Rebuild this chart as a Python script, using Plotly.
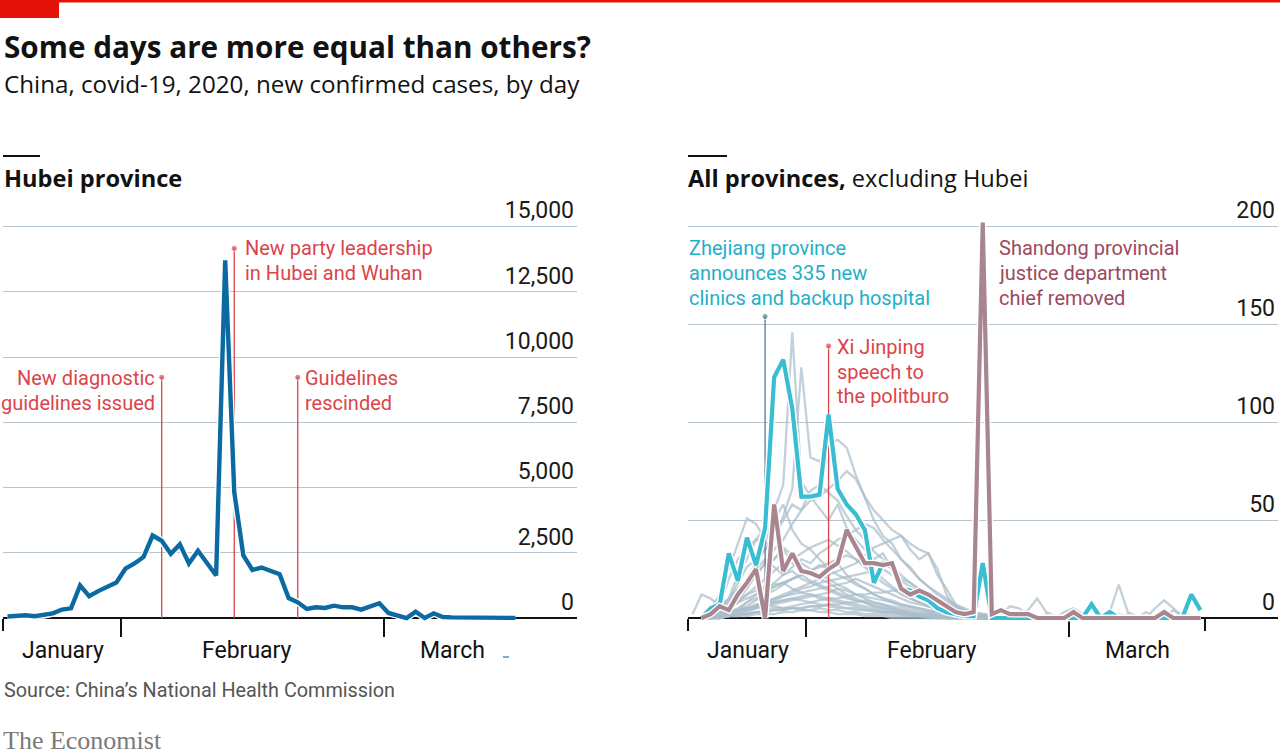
import pandas as pd
import plotly.graph_objects as go

W, H = 1280, 755

# ---- data: daily new confirmed cases, one value per day from 19 Jan to 15 Mar 2020
dates = pd.date_range("2020-01-19", "2020-03-15", freq="D")

hubei = [60, 72, 105, 69, 105, 180, 323, 371, 1250, 835,
         1030, 1205, 1360, 1890, 2090, 2340, 3160, 2960, 2460, 2820,
         2090, 2580, 2080, 1630, 13700, 4825, 2400, 1845, 1935, 1800,
         1680, 765, 600, 346, 410, 385, 474, 410, 410, 320,
         436, 564, 192, 90, 0, 243, 0, 180, 38, 25,
         18, 14, 10, 8, 5, 4, 3]

zhejiang = [None, 0, 5, 7, 33, 19, 41, 27, 46, 123,
            132, 107, 62, 62, 63, 104, 66, 58, 53, 45,
            18, 28, 26, 15, 14, 11, 9, 5, 3, 2,
            1, 1, 28, 0, 0, 0, 0, 0, 0, 0,
            0, 0, 0, 0, 7, 0, 3, 0, 0, 0,
            0, 0, 0, 0, 0, 12, 4]

shandong = [None, 0, 2, 6, 4, 12, 18, 25, 0, 58,
            24, 33, 24, 23, 21, 25, 28, 45, 36, 28,
            28, 27, 28, 15, 12, 14, 12, 9, 6, 3,
            2, 3, 202, 2, 4, 2, 2, 2, 0, 0,
            0, 0, 3, 0, 0, 0, 0, 0, 0, 0,
            0, 0, 3, 0, 0, 0, 0]

# other provinces (grey)
others = [
    [2, 12, 10, 6, 20, 30, 36, 40, 38, 55,
     68, 146, 70, 62, 56, 50, 58, 46, 40, 35,
     30, 33, 25, 20, 18, 14, 12, 10, 8, 6,
     4, 3, 2, 2, 1, 1, 0, 0, 0, 0,
     0, 0, 0, 0, 0, 0, 0, 0, 0, 0,
     0, 0, 0, 0, 0, 0, 0],
    [None, 0, 1, 4, 9, 18, 26, 30, 35, 40,
     52, 66, 128, 82, 80, 89, 91, 87, 73, 61,
     50, 42, 38, 30, 25, 20, 16, 13, 10, 7,
     5, 3, 2, 1, 1, 0, 0, 0, 0, 0,
     0, 0, 0, 0, 0, 0, 0, 0, 0, 0,
     0, 0, 0, 0, 0, 0, 0],
    [None, 0, 0, 1, 5, 9, 15, 22, 28, 35,
     40, 48, 55, 60, 62, 66, 70, 75, 71, 62,
     55, 50, 45, 42, 38, 35, 33, 22, 15, 7,
     3, 2, 1, 1, 0, 0, 0, 0, 0, 0,
     0, 0, 0, 0, 0, 0, 0, 0, 0, 0,
     0, 0, 0, 0, 0, 0, 0],
    [None, 0, 2, 3, 6, 12, 20, 28, 35, 42,
     50, 58, 55, 65, 68, 64, 60, 52, 45, 40,
     34, 30, 26, 22, 18, 15, 12, 10, 7, 5,
     3, 2, 1, 1, 0, 0, 0, 0, 0, 0,
     0, 0, 0, 0, 0, 0, 0, 0, 0, 0,
     0, 0, 0, 0, 0, 0, 0],
    [None, 1, 3, 5, 10, 22, 30, 40, 46, 50,
     58, 45, 38, 35, 30, 25, 28, 22, 18, 15,
     12, 10, 9, 7, 6, 5, 4, 3, 2, 1,
     1, 0, 0, 0, 0, 0, 0, 0, 0, 0,
     0, 0, 0, 0, 0, 0, 0, 0, 0, 0,
     0, 0, 0, 0, 0, 0, 0],
    [None, 2, 5, 12, 25, 38, 51, 48, 40, 30,
     35, 28, 25, 22, 20, 18, 15, 12, 10, 8,
     7, 6, 5, 4, 3, 2, 2, 1, 1, 0,
     0, 0, 0, 0, 0, 0, 0, 0, 0, 0,
     0, 0, 0, 0, 0, 0, 0, 0, 0, 0,
     0, 0, 0, 0, 0, 0, 0],
    [None, 0, 0, 0, 2, 4, 8, 12, 15, 18,
     22, 26, 30, 28, 33, 36, 40, 42, 45, 48,
     46, 40, 35, 30, 26, 20, 16, 12, 9, 6,
     4, 2, 1, 0, 0, 0, 0, 0, 0, 0,
     0, 0, 0, 0, 0, 0, 0, 0, 0, 0,
     0, 0, 0, 0, 0, 0, 0],
    [None, 0, 1, 2, 4, 8, 12, 16, 20, 24,
     28, 30, 33, 36, 38, 40, 37, 34, 30, 26,
     22, 18, 15, 12, 10, 8, 6, 4, 3, 2,
     1, 0, 0, 0, 0, 0, 0, 0, 0, 0,
     0, 0, 0, 0, 0, 0, 0, 0, 0, 0,
     0, 0, 0, 0, 0, 0, 0],
    [None, 0, 2, 4, 8, 14, 18, 22, 28, 30,
     36, 32, 28, 25, 22, 20, 17, 15, 12, 10,
     8, 7, 5, 4, 3, 2, 2, 1, 1, 0,
     0, 0, 0, 0, 0, 0, 0, 0, 0, 0,
     0, 0, 0, 0, 0, 0, 0, 0, 0, 0,
     0, 0, 0, 0, 0, 0, 0],
    [None, 0, 0, 1, 2, 4, 6, 9, 12, 14,
     17, 20, 22, 24, 26, 28, 30, 32, 30, 27,
     24, 20, 16, 13, 10, 8, 6, 5, 4, 3,
     2, 1, 1, 0, 0, 0, 0, 0, 0, 0,
     0, 0, 0, 0, 0, 0, 0, 0, 0, 0,
     0, 0, 0, 0, 0, 0, 0],
    [None, 1, 3, 6, 10, 15, 20, 25, 30, 26,
     22, 24, 20, 18, 16, 14, 12, 10, 9, 8,
     6, 5, 4, 3, 2, 2, 1, 1, 0, 0,
     0, 0, 0, 0, 0, 0, 0, 0, 0, 0,
     0, 0, 0, 0, 0, 0, 0, 0, 0, 0,
     0, 0, 0, 0, 0, 0, 0],
    [None, 0, 1, 2, 3, 5, 8, 10, 13, 16,
     18, 20, 22, 24, 27, 25, 22, 20, 17, 15,
     12, 10, 8, 6, 5, 4, 3, 2, 1, 1,
     0, 0, 0, 0, 0, 0, 0, 0, 0, 0,
     0, 0, 0, 0, 0, 0, 0, 0, 0, 0,
     0, 0, 0, 0, 0, 0, 0],
    [None, 0, 0, 0, 1, 2, 3, 5, 7, 9,
     11, 13, 15, 16, 18, 19, 20, 21, 22, 23,
     24, 25, 22, 19, 16, 13, 10, 8, 6, 4,
     3, 2, 1, 0, 0, 0, 0, 0, 0, 0,
     0, 0, 0, 0, 0, 0, 0, 0, 0, 0,
     0, 0, 0, 0, 0, 0, 0],
    [None, 0, 1, 3, 5, 8, 10, 12, 14, 16,
     18, 20, 22, 19, 17, 15, 13, 11, 9, 8,
     6, 5, 4, 3, 2, 1, 1, 0, 0, 0,
     0, 0, 0, 0, 0, 0, 0, 0, 0, 0,
     0, 0, 0, 0, 0, 0, 0, 0, 0, 0,
     0, 0, 0, 0, 0, 0, 0],
    [None, 0, 0, 1, 2, 3, 5, 7, 8, 10,
     11, 12, 13, 14, 15, 16, 17, 18, 20, 18,
     16, 14, 12, 10, 8, 7, 6, 5, 4, 3,
     2, 1, 1, 0, 0, 3, 1, 4, 10, 3,
     1, 0, 0, 0, 0, 0, 0, 0, 0, 0,
     0, 0, 0, 0, 0, 0, 0],
    [None, 0, 2, 4, 6, 9, 12, 14, 16, 17,
     18, 15, 13, 12, 10, 9, 8, 7, 6, 5,
     4, 3, 3, 2, 2, 1, 1, 0, 0, 0,
     0, 0, 0, 0, 0, 0, 0, 0, 0, 0,
     0, 0, 0, 0, 0, 0, 0, 0, 0, 0,
     0, 0, 0, 0, 0, 0, 0],
    [None, 0, 0, 1, 2, 3, 4, 5, 6, 7,
     8, 9, 10, 11, 12, 13, 15, 14, 12, 11,
     10, 9, 8, 7, 6, 5, 4, 3, 2, 2,
     1, 1, 0, 0, 0, 0, 0, 0, 0, 0,
     0, 0, 0, 0, 0, 0, 0, 0, 0, 0,
     0, 0, 0, 0, 0, 0, 0],
    [None, 0, 0, 0, 1, 1, 2, 3, 4, 5,
     5, 6, 7, 8, 9, 10, 10, 11, 12, 12,
     13, 13, 14, 14, 12, 10, 8, 6, 5, 4,
     3, 2, 2, 1, 1, 0, 1, 0, 0, 0,
     1, 0, 2, 0, 1, 0, 3, 17, 3, 1,
     0, 1, 0, 0, 0, 0, 0],
    [None, 0, 1, 2, 3, 4, 5, 6, 7, 8,
     9, 10, 11, 12, 11, 10, 9, 8, 7, 6,
     5, 4, 3, 3, 2, 2, 1, 1, 0, 0,
     0, 0, 0, 0, 0, 0, 0, 0, 0, 0,
     0, 0, 0, 0, 0, 0, 0, 0, 0, 0,
     0, 0, 0, 0, 0, 0, 0],
    [None, 0, 1, 2, 3, 4, 5, 6, 7, 8,
     9, 10, 9, 8, 7, 6, 5, 5, 4, 4,
     3, 3, 2, 2, 1, 1, 1, 0, 0, 0,
     0, 0, 0, 0, 0, 0, 0, 0, 0, 2,
     0, 0, 0, 0, 0, 0, 0, 0, 0, 0,
     0, 0, 0, 0, 3, 1, 0],
    [None, 0, 0, 1, 1, 2, 2, 3, 3, 4,
     4, 5, 5, 6, 6, 7, 7, 8, 8, 9,
     8, 7, 6, 5, 4, 3, 3, 2, 2, 1,
     1, 0, 0, 0, 0, 0, 0, 0, 0, 0,
     0, 0, 1, 0, 0, 2, 1, 0, 2, 1,
     0, 5, 9, 5, 1, 0, 0],
    [None, 0, 0, 1, 1, 2, 2, 3, 3, 4,
     4, 5, 5, 6, 6, 7, 6, 5, 5, 4,
     4, 3, 3, 2, 2, 1, 1, 1, 0, 0,
     0, 0, 0, 0, 2, 6, 5, 1, 0, 0,
     0, 0, 0, 0, 0, 0, 0, 0, 0, 0,
     0, 0, 0, 0, 0, 0, 0],
    [None, 0, 1, 2, 3, 4, 5, 5, 6, 6,
     5, 5, 4, 4, 3, 3, 2, 2, 2, 1,
     1, 1, 0, 0, 0, 0, 0, 0, 0, 0,
     0, 0, 0, 0, 0, 0, 0, 0, 0, 0,
     0, 3, 5, 2, 0, 0, 0, 0, 0, 0,
     0, 0, 0, 0, 0, 0, 0],
    [None, 0, 0, 0, 1, 1, 1, 2, 2, 2,
     3, 3, 4, 4, 5, 4, 4, 3, 3, 2,
     2, 2, 1, 1, 1, 1, 0, 0, 0, 0,
     0, 0, 0, 0, 0, 0, 0, 0, 0, 0,
     0, 0, 0, 0, 0, 0, 0, 2, 1, 0,
     3, 0, 0, 4, 1, 0, 0],
    [None, 0, 0, 0, 1, 2, 4, 6, 8, 10,
     12, 14, 16, 18, 20, 22, 24, 26, 28, 32,
     36, 38, 40, 42, 35, 30, 33, 25, 12, 5,
     2, 1, 0, 0, 0, 0, 0, 0, 0, 0,
     0, 0, 0, 0, 0, 0, 0, 0, 0, 0,
     0, 0, 0, 0, 0, 0, 0],
]

# events: (date, top of pin, label lines)
hubei_events = [("2020-02-05", 9220, ["New diagnostic", "guidelines issued"]),
                ("2020-02-13", 14160, ["New party leadership", "in Hubei and Wuhan"]),
                ("2020-02-20", 9220, ["Guidelines", "rescinded"])]
zhejiang_event = ("2020-01-27", 154, ["Zhejiang province", "announces 335 new",
                                      "clinics and backup hospital"])
xi_event = ("2020-02-03", 139, ["Xi Jinping", "speech to", "the politburo"])
shandong_note = ["Shandong provincial", "justice department", "chief removed"]

hubei_ticks = [0, 2500, 5000, 7500, 10000, 12500, 15000]
prov_ticks = [0, 50, 100, 150, 200]
months = [("January", "2020-01-25 14:00"), ("February", "2020-02-14 22:00"),
          ("March", "2020-03-08 14:00")]

# ---- colours and fonts
RED = "#E3120B"
ANN_RED = "#DB444B"
BLUE = "#0B6AA2"
TEAL = "#38BDD2"
TEAL_TXT = "#1FAFC8"
MAUVE = "#A8858F"
MAUVE_TXT = "#9A4960"
GREY = "rgba(170,190,203,0.72)"
GRID = "#B6C5CF"
PIN = "#5B7B8D"
LABEL = "Roboto, sans-serif"
HEAD = "Open Sans, sans-serif"

PX_DAY = 263 / 29
START = pd.Timestamp("2020-01-19")
noon = dates + pd.Timedelta(hours=12)


def py(p):
    return 1 - p / H


def x_range(left, right):
    end = START + pd.Timedelta(days=(right - left) / PX_DAY)
    return [str(START), str(end)]


def y_domain(base, top, top_val, lo, hi):
    ppu = (base - top) / top_val
    return [py(base - lo * ppu), py(base - hi * ppu)], [lo, hi]


fig = go.Figure()

# left panel - Hubei
for d, top, _ in hubei_events:
    t = pd.Timestamp(d) + pd.Timedelta(hours=12)
    fig.add_trace(go.Scatter(x=[t, t], y=[0, top], mode="lines+markers",
                             line=dict(color=ANN_RED, width=1.3),
                             marker=dict(size=[0, 6], color=ANN_RED),
                             xaxis="x", yaxis="y", hoverinfo="skip"))
fig.add_trace(go.Scatter(x=noon, y=hubei, mode="lines", line=dict(color="white", width=7),
                         xaxis="x", yaxis="y", hoverinfo="skip"))
fig.add_trace(go.Scatter(x=noon, y=hubei, mode="lines", line=dict(color=BLUE, width=4.4),
                         xaxis="x", yaxis="y", hoverinfo="skip"))

# right panel - other provinces
for s in others:
    fig.add_trace(go.Scatter(x=noon, y=s, mode="lines", line=dict(color=GREY, width=2.3),
                             xaxis="x2", yaxis="y2", hoverinfo="skip"))
for (d, top, _), col in [(zhejiang_event, PIN), (xi_event, ANN_RED)]:
    t = pd.Timestamp(d) + pd.Timedelta(hours=12)
    fig.add_trace(go.Scatter(x=[t, t], y=[0, top], mode="lines+markers",
                             line=dict(color=col, width=1.3),
                             marker=dict(size=[0, 6], color=col),
                             xaxis="x2", yaxis="y2", hoverinfo="skip"))
for s, col in [(zhejiang, TEAL), (shandong, MAUVE)]:
    fig.add_trace(go.Scatter(x=noon, y=s, mode="lines", line=dict(color="white", width=7),
                             xaxis="x2", yaxis="y2", hoverinfo="skip"))
    fig.add_trace(go.Scatter(x=noon, y=s, mode="lines", line=dict(color=col, width=4.2),
                             xaxis="x2", yaxis="y2", hoverinfo="skip"))

yd1, yr1 = y_domain(618, 226.5, 15000, -500, 16600)
yd2, yr2 = y_domain(618, 226.5, 200, -6, 225)


def xaxis(left, right):
    return dict(domain=[left / W, right / W], range=x_range(left, right),
                anchor="free", position=py(618), showline=True, linecolor="#121212",
                linewidth=1.5, layer="below traces", showgrid=False, zeroline=False,
                ticks="outside", ticklen=18, tickwidth=1.5, tickcolor="#121212",
                tickvals=["2020-02-01", "2020-03-01"], showticklabels=False,
                minor=dict(ticks="outside", tickmode="array", tickvals=["2020-01-19", "2020-03-16"],
                           ticklen=12, tickwidth=1.5, tickcolor="#121212", showgrid=False))


def yaxis(dom, rng, ticks, anchor):
    return dict(domain=dom, range=rng, side="right", anchor=anchor, tickvals=ticks,
                tickformat=",", ticklabelposition="inside top", ticks="",
                showgrid=True, gridcolor=GRID, gridwidth=1.3, zeroline=False,
                showline=False, layer="below traces",
                tickfont=dict(family=LABEL, size=23, color="#1a1a1a"))


ann = []


def text(x, y, s, size, family=LABEL, color="#121212", xanchor="left"):
    ann.append(dict(x=x / W, y=py(y), xref="paper", yref="paper", text=s, showarrow=False,
                    xanchor=xanchor, yanchor="middle", align=xanchor,
                    font=dict(family=family, size=size, color=color)))


def lines(x, y0, step, rows, color, xanchor="left"):
    for k, row in enumerate(rows):
        text(x, y0 + k * step, row, 20, LABEL, color, xanchor)


text(2, 47, "<b>Some days are more equal than others?</b>", 29.7, HEAD)
text(2, 83, "China, covid-19, 2020, new confirmed cases, by day", 24.2, HEAD)
text(2, 178, "<b>Hubei province</b>", 23.6, HEAD)
text(686, 178, "<b>All provinces,</b> excluding Hubei", 23.6, HEAD)
text(2, 690, "Source: China’s National Health Commission", 19.8, LABEL, "#555555")
text(1, 740, "The Economist", 26, "Liberation Serif, DejaVu Serif, serif", "#7a7a7a")

lines(157, 378, 25, hubei_events[0][2], ANN_RED, "right")
lines(243, 248, 25, hubei_events[1][2], ANN_RED)
lines(303, 378, 25, hubei_events[2][2], ANN_RED)
lines(687, 248, 25, zhejiang_event[2], TEAL_TXT)
lines(835, 347, 24.5, xi_event[2], ANN_RED)
lines(997, 248, 25, shandong_note, MAUVE_TXT)

for name, d in months:
    for xr in ["x", "x2"]:
        ann.append(dict(x=d, y=py(650), xref=xr, yref="paper", text=name, showarrow=False,
                        xanchor="center", yanchor="middle",
                        font=dict(family=LABEL, size=23, color="#121212")))

shapes = [
    dict(type="rect", xref="paper", yref="paper", x0=0, x1=59 / W, y0=py(18), y1=1,
         fillcolor=RED, line_width=0),
    dict(type="rect", xref="paper", yref="paper", x0=0, x1=1, y0=py(2.5), y1=1,
         fillcolor=RED, line_width=0),
    dict(type="line", xref="paper", yref="paper", x0=3 / W, x1=40 / W, y0=py(156), y1=py(156),
         line=dict(color="#121212", width=2)),
    dict(type="line", xref="paper", yref="paper", x0=688 / W, x1=727 / W, y0=py(156), y1=py(156),
         line=dict(color="#121212", width=2)),
    dict(type="line", xref="paper", yref="paper", x0=503 / W, x1=509 / W, y0=py(657), y1=py(657),
         line=dict(color="#4a8fc0", width=1.5)),
]

fig.update_layout(
    width=W, height=H, margin=dict(l=0, r=0, t=0, b=0),
    paper_bgcolor="white", plot_bgcolor="white", showlegend=False,
    font=dict(family=LABEL, color="#121212"),
    xaxis=xaxis(3, 577), yaxis=yaxis(yd1, yr1, hubei_ticks, "x"),
    xaxis2=xaxis(688, 1278), yaxis2=yaxis(yd2, yr2, prov_ticks, "x2"),
    annotations=ann, shapes=shapes,
)

fig.write_html("out.html", config={"displayModeBar": False},
               post_script="document.body.style.margin='0';")
